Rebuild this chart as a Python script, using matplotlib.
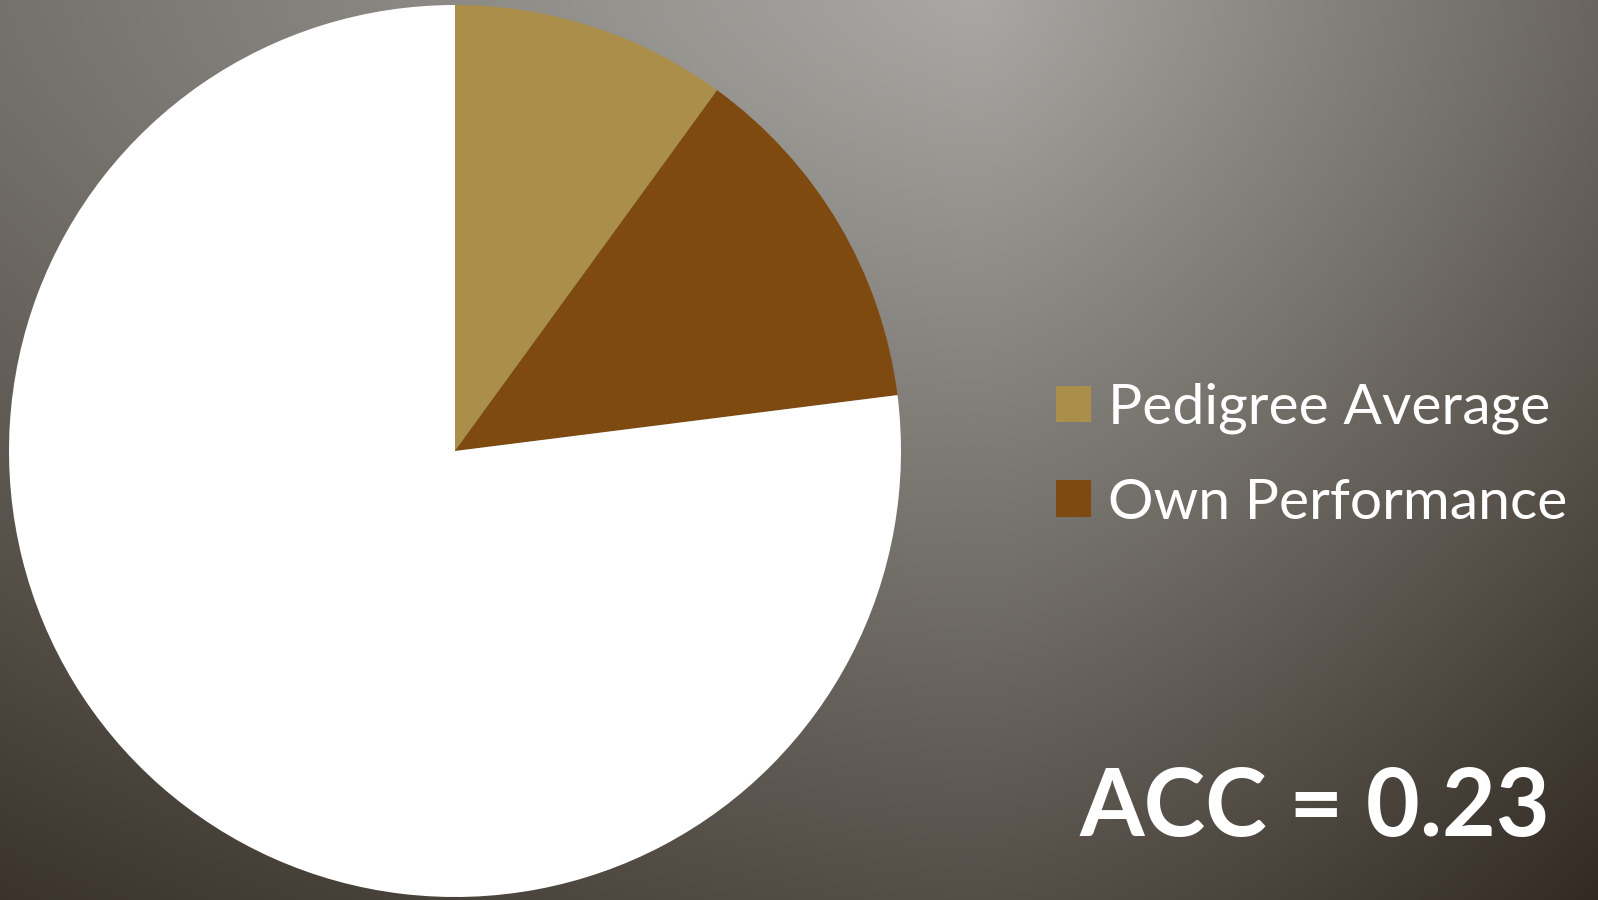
import numpy as np
import matplotlib
matplotlib.use("Agg")
import matplotlib.pyplot as plt

# data
labels = ["Pedigree Average", "Own Performance", ""]
values = [0.10, 0.13, 0.77]
colors = ["#AA8E4A", "#7F4A10", "#FFFFFF"]
acc_text = "ACC = 0.23"

W, H = 1598, 900
fig = plt.figure(figsize=(W / 100, H / 100), dpi=100)

# ── background: radial-ish gradient, light at top centre ─────────────────────
bg = fig.add_axes([0, 0, 1, 1])
yy, xx = np.mgrid[0:H, 0:W]
cx, cy = 975.0, 0.0
sx = np.where(xx < cx, 2256.0, 1176.0)
dx = np.abs(xx - cx) / sx
dy = np.abs(yy - cy) / 1280.0
t = np.clip((dx ** 1.5 + dy ** 1.5) ** (1 / 1.5), 0, 1)[..., None]
light = np.array([169, 168, 164]) / 255
dark = np.array([48, 40, 32]) / 255
img = light * (1 - t) + dark * t
bg.imshow(img, aspect="auto", extent=(0, W, H, 0))
bg.set_axis_off()

# ── pie ──────────────────────────────────────────────────────────────────────
pcx, pcy, r = 455, 451, 446
ax = fig.add_axes([(pcx - r) / W, (H - pcy - r) / H, 2 * r / W, 2 * r / H])
wedges, _ = ax.pie(values, colors=colors, startangle=90, counterclock=False,
                   wedgeprops=dict(linewidth=0))
ax.set_xlim(-1, 1)
ax.set_ylim(-1, 1)
ax.set_aspect("equal")
ax.set_axis_off()

# ── legend (white slice left out) ────────────────────────────────────────────
fs = 41
fig.legend(wedges[:2], labels[:2], loc="upper left",
           bbox_to_anchor=(1056 / W, 1 - 383 / H), frameon=False,
           borderaxespad=0, borderpad=0,
           prop=dict(family="Lato", size=fs), labelcolor="white",
           handlelength=0.615, handleheight=0.615, handletextpad=0.3,
           labelspacing=0.76)

fig.text(1550 / W, 1 - 836 / H, acc_text, ha="right", va="baseline",
         color="white", fontsize=67, fontweight="bold", family="Lato")

fig.savefig("out.png", dpi=100)
